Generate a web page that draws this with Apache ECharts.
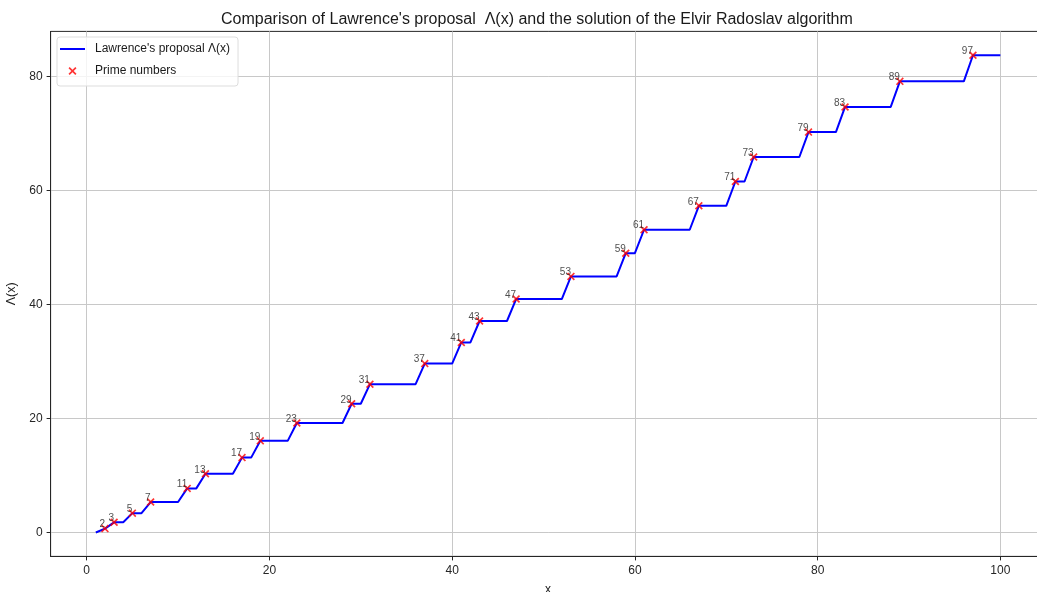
<!DOCTYPE html>
<html>
<head>
<meta charset="utf-8">
<title>Λ(x) vs primes</title>
<script src="https://cdn.jsdelivr.net/npm/echarts@6/dist/echarts.min.js"></script>
<style>
  html, body { margin: 0; padding: 0; background: #fff; overflow: hidden; }
  /* the axes run a little past the right edge of the window */
  #chart { width: 1052px; height: 592px; }
</style>
</head>
<body>
<div id="chart"></div>
<script>
// Primes up to 100 and the value of Λ at each prime
const primes = [2, 3, 5, 7, 11, 13, 17, 19, 23, 29, 31, 37, 41, 43, 47, 53, 59, 61, 67, 71, 73, 79, 83, 89, 97];
const lambdaAtPrime = [0.693, 1.792, 3.401, 5.347, 7.745, 10.310, 13.143, 16.088, 19.223, 22.590,
  26.024, 29.635, 33.349, 37.110, 40.960, 44.930, 49.008, 53.119, 57.324, 61.586,
  65.877, 70.246, 74.665, 79.154, 83.728];
// Integer sample points of the proposal curve
const xStart = 1;
const xEnd = 100;
const xTicks = [0, 20, 40, 60, 80, 100];
const yTicks = [0, 20, 40, 60, 80];

// Curve value at integer x: value at the last prime not above x
const curve = [];
for (let x = xStart; x <= xEnd; x++) {
  let v = 0;
  for (let i = 0; i < primes.length; i++) if (primes[i] <= x) v = lambdaAtPrime[i];
  curve.push([x, v]);
}
const primePoints = primes.map((p, i) => [p, lambdaAtPrime[i]]);

// Axis limits with a 5% margin around the data
const xSpan = xEnd - xStart;
const xMin = xStart - 0.05 * xSpan, xMax = xEnd + 0.05 * xSpan;
const yTop = Math.max(...lambdaAtPrime);
const yMin = -0.05 * yTop, yMax = yTop * 1.05;

const crossPath = 'path://M0,1.5L1.5,0L5,3.5L8.5,0L10,1.5L6.5,5L10,8.5L8.5,10L5,6.5L1.5,10L0,8.5L3.5,5Z';
// legend swatch: a thin bar centred in a 25x8 box
const lineSwatch = 'path://M0,0M0,3L25,3L25,5L0,5ZM25,8';
const font = 'Liberation Sans, Arial, sans-serif';

const chart = echarts.init(document.getElementById('chart'), null, { renderer: 'canvas' });
chart.setOption({
  animation: false,
  backgroundColor: '#ffffff',
  title: {
    text: "Comparison of Lawrence's proposal  Λ(x) and the solution of the Elvir Radoslav algorithm",
    left: 216, top: 7,
    textStyle: { fontFamily: font, fontSize: 16, fontWeight: 'normal', color: '#1a1a1a' }
  },
  legend: {
    orient: 'vertical', left: 57, top: 37,
    padding: [6, 8, 9, 3], itemGap: 10,
    itemWidth: 25, itemHeight: 8,
    backgroundColor: 'rgba(255,255,255,0.8)',
    borderColor: '#dddddd', borderWidth: 1, borderRadius: 3,
    textStyle: { fontFamily: font, fontSize: 12, color: '#1a1a1a', padding: [0, 0, 0, 5] },
    data: [
      { name: "Lawrence's proposal Λ(x)", icon: lineSwatch, itemStyle: { color: '#0000ff' } },
      { name: 'Prime numbers', icon: crossPath, itemStyle: { color: '#ff0000' } }
    ]
  },
  grid: {
    left: 50.6, top: 31.4, width: 995, height: 525,
    outerBoundsMode: 'none', containLabel: false,
    show: true, borderColor: '#262626', borderWidth: 1, backgroundColor: 'transparent'
  },
  xAxis: {
    type: 'value', min: xMin, max: xMax,
    name: 'x', nameLocation: 'middle', nameGap: 27,
    nameTextStyle: { fontFamily: font, fontSize: 12, color: '#1a1a1a' },
    axisLine: { show: true, onZero: false, lineStyle: { color: '#262626', width: 1 } },
    axisTick: { show: true, length: 4, customValues: xTicks, lineStyle: { color: '#262626' } },
    axisLabel: { customValues: xTicks, margin: 8, fontFamily: font, fontSize: 12, color: '#262626' },
    splitLine: { show: true, lineStyle: { color: '#c8c8c8', width: 1 } }
  },
  yAxis: {
    type: 'value', min: yMin, max: yMax,
    name: 'Λ(x)', nameLocation: 'middle', nameGap: 27, nameRotate: 90,
    nameTextStyle: { fontFamily: font, fontSize: 12.5, color: '#1a1a1a' },
    axisLine: { show: true, onZero: false, lineStyle: { color: '#262626', width: 1 } },
    axisTick: { show: true, length: 4, customValues: yTicks, lineStyle: { color: '#262626' } },
    axisLabel: { customValues: yTicks, margin: 8, fontFamily: font, fontSize: 12, color: '#262626' },
    splitLine: { show: true, lineStyle: { color: '#c8c8c8', width: 1 } }
  },
  series: [
    {
      name: "Lawrence's proposal Λ(x)",
      type: 'line', data: curve, symbol: 'none', showSymbol: false,
      lineStyle: { color: '#0000ff', width: 2 }, itemStyle: { color: '#0000ff' },
      z: 2
    },
    {
      name: 'Prime numbers',
      type: 'scatter', data: primePoints,
      symbol: crossPath, symbolSize: 8,
      itemStyle: { color: '#ff0000' },
      label: {
        show: true, position: 'inside', align: 'right', verticalAlign: 'bottom',
        offset: [0, 1],
        formatter: p => String(p.value[0]),
        fontFamily: font, fontSize: 10, color: '#222222'
      },
      z: 3
    }
  ]
});
</script>
</body>
</html>
